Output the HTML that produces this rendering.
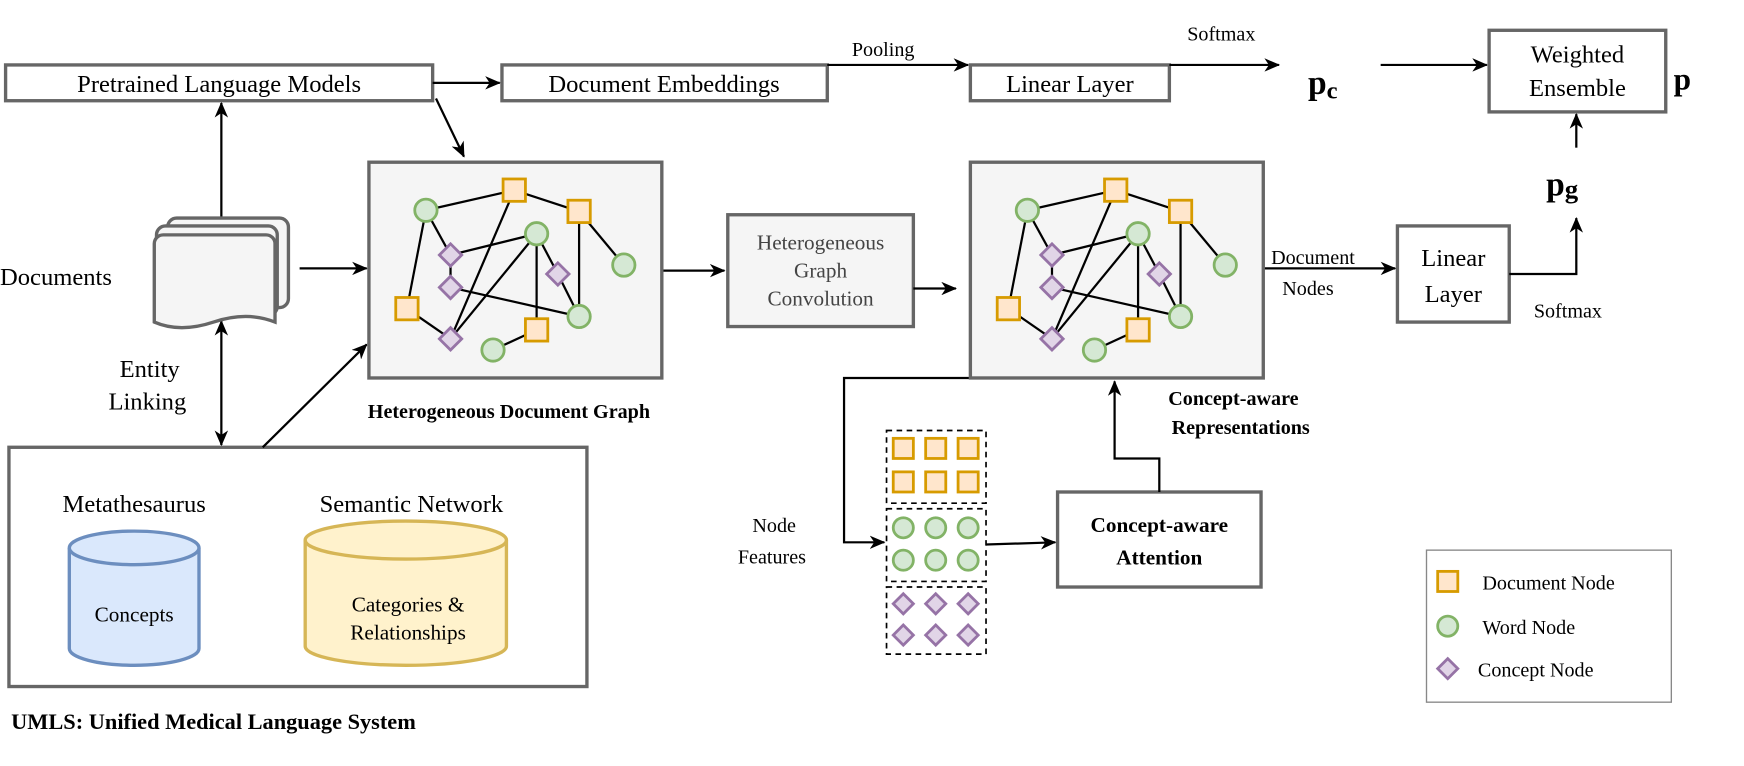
<!DOCTYPE html>
<html><head><meta charset="utf-8"><style>
html,body{margin:0;padding:0;background:#fff;}
svg{display:block;}
text{font-family:"Liberation Serif",serif;fill:#000;}
</style></head><body>
<svg width="1744" height="766" viewBox="0 0 1560 685" xmlns="http://www.w3.org/2000/svg">
<defs>
<marker id="ar" markerWidth="14" markerHeight="12" refX="13" refY="6" orient="auto" markerUnits="userSpaceOnUse" viewBox="0 0 14 12">
<path d="M0,0 L14,6 L0,12 L4,6 Z" fill="#000"/></marker>
<marker id="as" markerWidth="14" markerHeight="12" refX="1" refY="6" orient="auto" markerUnits="userSpaceOnUse" viewBox="0 0 14 12">
<path d="M14,0 L0,6 L14,12 L10,6 Z" fill="#000"/></marker>
<g id="graph">
<rect x="330" y="145" width="262" height="193" fill="#f5f5f5" stroke="#666" stroke-width="3"/>
<g stroke="#000" stroke-width="2" fill="none">
<line x1="381" y1="188" x2="460" y2="170"/>
<line x1="460" y1="170" x2="518" y2="189"/>
<line x1="518" y1="189" x2="558" y2="237"/>
<line x1="518" y1="189" x2="518" y2="283"/>
<line x1="381" y1="188" x2="364" y2="276"/>
<line x1="381" y1="188" x2="403" y2="228"/>
<line x1="403" y1="228" x2="480" y2="209"/>
<line x1="403" y1="228" x2="403" y2="257"/>
<line x1="403" y1="257" x2="518" y2="283"/>
<line x1="460" y1="170" x2="403" y2="303"/>
<line x1="480" y1="209" x2="403" y2="303"/>
<line x1="480" y1="209" x2="480" y2="295"/>
<line x1="480" y1="209" x2="499" y2="245"/>
<line x1="499" y1="245" x2="518" y2="283"/>
<line x1="364" y1="276" x2="403" y2="303"/>
<line x1="441" y1="313" x2="480" y2="295"/>
</g>
<g fill="#ffe6cc" stroke="#d79b00" stroke-width="2.5">
<rect x="450" y="160" width="20" height="20"/><rect x="508" y="179" width="20" height="20"/>
<rect x="354" y="266" width="20" height="20"/><rect x="470" y="285" width="20" height="20"/>
</g>
<g fill="#d5e8d4" stroke="#82b366" stroke-width="2.5">
<circle cx="381" cy="188" r="10"/><circle cx="480" cy="209" r="10"/><circle cx="558" cy="237" r="10"/>
<circle cx="518" cy="283" r="10"/><circle cx="441" cy="313" r="10"/>
</g>
<g fill="#e1d5e7" stroke="#9673a6" stroke-width="2.5">
<path d="M403,218 l10,10 l-10,10 l-10,-10z"/><path d="M403,247 l10,10 l-10,10 l-10,-10z"/>
<path d="M499,235 l10,10 l-10,10 l-10,-10z"/><path d="M403,293 l10,10 l-10,10 l-10,-10z"/>
</g>
</g>
</defs>

<g fill="#fff" stroke="#666" stroke-width="3">
<rect x="5" y="58" width="382" height="32"/>
<rect x="449" y="58" width="291" height="32"/>
<rect x="868" y="58" width="178" height="32"/>
<rect x="1332" y="27" width="158" height="73"/>
<rect x="1250" y="202" width="100" height="86"/>
<rect x="8" y="400" width="517" height="214"/>
<rect x="946" y="440" width="182" height="85"/>
<rect x="651" y="192" width="166" height="100" fill="#f5f5f5"/>
</g>
<rect x="1276" y="492" width="219" height="136" fill="#fff" stroke="#888" stroke-width="1.2"/>

<g font-size="22" text-anchor="middle">
<text x="196" y="82">Pretrained Language Models</text>
<text x="594" y="82">Document Embeddings</text>
<text x="957" y="82">Linear Layer</text>
<text x="1411" y="56">Weighted</text>
<text x="1411" y="86">Ensemble</text>
<text x="1300" y="238">Linear</text>
<text x="1300" y="270">Layer</text>
<text x="120" y="458">Metathesaurus</text>
<text x="368" y="458">Semantic Network</text>
</g>
<g font-size="19" text-anchor="middle">
<text x="734" y="223" style="fill:#444">Heterogeneous</text>
<text x="734" y="248" style="fill:#444">Graph</text>
<text x="734" y="273" style="fill:#444">Convolution</text>
</g>
<g font-size="19" text-anchor="middle" font-weight="bold">
<text x="1037" y="476">Concept-aware</text>
<text x="1037" y="505">Attention</text>
</g>

<g stroke="#000" stroke-width="2" fill="none">
<line x1="387" y1="74" x2="447" y2="74" marker-end="url(#ar)"/>
<line x1="740" y1="58" x2="866" y2="58" marker-end="url(#ar)"/>
<line x1="1046" y1="58" x2="1144" y2="58" marker-end="url(#ar)"/>
<line x1="1235" y1="58" x2="1330" y2="58" marker-end="url(#ar)"/>
<line x1="1410" y1="132" x2="1410" y2="102" marker-end="url(#ar)"/>
<polyline points="1350,245 1410,245 1410,195" marker-end="url(#ar)"/>
<line x1="1130" y1="240" x2="1248" y2="240" marker-end="url(#ar)"/>
<line x1="390" y1="88" x2="415" y2="140" marker-end="url(#ar)"/>
<line x1="198" y1="195" x2="198" y2="92" marker-end="url(#ar)"/>
<line x1="268" y1="240" x2="328" y2="240" marker-end="url(#ar)"/>
<line x1="198" y1="287" x2="198" y2="398" marker-start="url(#as)" marker-end="url(#ar)"/>
<line x1="235" y1="400" x2="328" y2="308" marker-end="url(#ar)"/>
<line x1="592" y1="242" x2="648" y2="242" marker-end="url(#ar)"/>
<line x1="817" y1="258" x2="855" y2="258" marker-end="url(#ar)"/>
<polyline points="868,338 755,338 755,485 791,485" marker-end="url(#ar)"/>
<line x1="882" y1="487" x2="944" y2="485" marker-end="url(#ar)"/>
<polyline points="1037,440 1037,410 997,410 997,341" marker-end="url(#ar)"/>
</g>

<use href="#graph"/>
<use href="#graph" x="538"/>

<g fill="#f5f5f5" stroke="#666" stroke-width="3">
<rect x="150" y="195" width="108" height="80" rx="8"/>
<rect x="140" y="202" width="108" height="80" rx="8"/>
<path d="M138,218 a8,8 0 0 1 8,-8 h92 a8,8 0 0 1 8,8 v70 q-25,-10 -55,0 q-30,10 -53,0 z"/>
</g>

<g stroke-width="3">
<path d="M62,490 v90 a58,15 0 0 0 116,0 v-90" fill="#dae8fc" stroke="#6c8ebf"/>
<ellipse cx="120" cy="490" rx="58" ry="15" fill="#dae8fc" stroke="#6c8ebf"/>
<path d="M273,483 v95 a90,17 0 0 0 180,0 v-95" fill="#fff2cc" stroke="#d6b656"/>
<ellipse cx="363" cy="483" rx="90" ry="17" fill="#fff2cc" stroke="#d6b656"/>
</g>
<g font-size="19" text-anchor="middle">
<text x="120" y="556">Concepts</text>
<text x="365" y="547">Categories &amp;</text>
<text x="365" y="572">Relationships</text>
</g>

<g fill="none" stroke="#000" stroke-width="1.5" stroke-dasharray="5,4">
<rect x="793" y="385" width="89" height="65"/>
<rect x="793" y="455" width="89" height="65"/>
<rect x="793" y="525" width="89" height="60"/>
</g>
<g fill="#ffe6cc" stroke="#d79b00" stroke-width="2.5">
<rect x="799" y="392" width="18" height="18"/><rect x="828" y="392" width="18" height="18"/><rect x="857" y="392" width="18" height="18"/>
<rect x="799" y="422" width="18" height="18"/><rect x="828" y="422" width="18" height="18"/><rect x="857" y="422" width="18" height="18"/>
</g>
<g fill="#d5e8d4" stroke="#82b366" stroke-width="2.5">
<circle cx="808" cy="472" r="9"/><circle cx="837" cy="472" r="9"/><circle cx="866" cy="472" r="9"/>
<circle cx="808" cy="501" r="9"/><circle cx="837" cy="501" r="9"/><circle cx="866" cy="501" r="9"/>
</g>
<g fill="#e1d5e7" stroke="#9673a6" stroke-width="2.5">
<path d="M808,531 l9,9 l-9,9 l-9,-9z"/><path d="M837,531 l9,9 l-9,9 l-9,-9z"/><path d="M866,531 l9,9 l-9,9 l-9,-9z"/>
<path d="M808,559 l9,9 l-9,9 l-9,-9z"/><path d="M837,559 l9,9 l-9,9 l-9,-9z"/><path d="M866,559 l9,9 l-9,9 l-9,-9z"/>
</g>

<rect x="1286" y="511" width="18" height="18" fill="#ffe6cc" stroke="#d79b00" stroke-width="2.5"/>
<circle cx="1295" cy="560" r="9" fill="#d5e8d4" stroke="#82b366" stroke-width="2.5"/>
<path d="M1295,589 l9,9 l-9,9 l-9,-9z" fill="#e1d5e7" stroke="#9673a6" stroke-width="2.5"/>
<g font-size="18">
<text x="1326" y="527">Document Node</text>
<text x="1326" y="567">Word Node</text>
<text x="1322" y="605">Concept Node</text>
</g>

<g font-size="18">
<text x="762" y="50">Pooling</text>
<text x="1062" y="36">Softmax</text>
<text x="1372" y="284">Softmax</text>
<text x="1137" y="236">Document</text>
<text x="1147" y="264">Nodes</text>
<text x="673" y="476">Node</text>
<text x="660" y="504">Features</text>
</g>
<g font-size="22">
<text x="0" y="255">Documents</text>
<text x="107" y="337">Entity</text>
<text x="97" y="366">Linking</text>
</g>
<g font-weight="bold">
<text x="1170" y="84" font-size="30">p<tspan font-size="22" dy="4">c</tspan></text>
<text x="1497" y="80" font-size="28">p</text>
<text x="1383" y="175" font-size="30">p<tspan font-size="24" dy="2">g</tspan></text>
<text x="329" y="374" font-size="18">Heterogeneous Document Graph</text>
<text x="1045" y="362" font-size="18">Concept-aware</text>
<text x="1048" y="388" font-size="18">Representations</text>
<text x="10" y="652" font-size="20">UMLS: Unified Medical Language System</text>
</g>
</svg>
</body></html>
